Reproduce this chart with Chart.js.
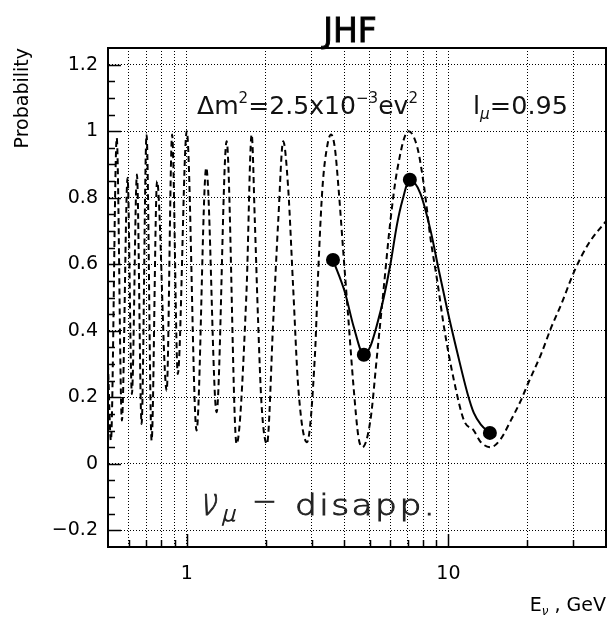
<!DOCTYPE html>
<html><head><meta charset="utf-8">
<script src="https://cdn.jsdelivr.net/npm/chart.js@4"></script>
<style>html,body{margin:0;padding:0;background:#fff;} #wrap{width:613px;height:622px;}</style>
</head><body><div id="wrap"><canvas id="c" width="613" height="622"></canvas></div>
<script>
// ---- data ----
const dashE = [0.5, 0.513, 0.54, 0.565, 0.594, 0.617, 0.645, 0.672, 0.702, 0.734, 0.77, 0.838, 0.879, 0.924, 1.0, 1.09, 1.187, 1.3, 1.42, 1.55, 1.69, 1.77, 1.82, 1.873, 1.93, 2.025, 2.14, 2.236, 2.336, 2.44, 2.55, 2.667, 2.88, 3.09, 3.18, 3.30, 3.45, 3.56, 3.68, 3.8, 3.97, 4.15, 4.34, 4.53, 4.69, 5.03, 5.34, 5.66, 6.0, 6.36, 7.03, 7.61, 8.08, 8.53, 9.06, 9.62, 10.5, 11.47, 12.5, 13.3, 14.5, 15.85, 17.3, 18.9, 20.1, 22.6, 24.7, 27.0, 30.3, 34.2, 40];
const dashP = [0.30, 0.07, 0.98, 0.13, 0.86, 0.21, 0.87, 0.12, 0.99, 0.07, 0.85, 0.22, 0.99, 0.27, 1.0, 0.10, 0.89, 0.155, 0.97, 0.06, 0.51, 0.99, 0.73, 0.43, 0.18, 0.06, 0.43, 0.73, 0.97, 0.83, 0.53, 0.23, 0.065, 0.33, 0.58, 0.83, 0.96, 0.99, 0.95, 0.83, 0.63, 0.43, 0.23, 0.08, 0.05, 0.13, 0.33, 0.53, 0.73, 0.88, 1.0, 0.95, 0.83, 0.68, 0.55, 0.41, 0.25, 0.13, 0.10, 0.065, 0.05, 0.075, 0.13, 0.19, 0.24, 0.33, 0.41, 0.48, 0.58, 0.66, 0.73];
const solidE = [3.62, 4.03, 4.34, 4.75, 5.03, 5.34, 5.66, 6.0, 6.36, 6.66, 7.12, 7.8, 8.53, 9.18, 9.9, 10.82, 11.84, 12.5, 13.3, 14.4];
const solidP = [0.613, 0.513, 0.413, 0.328, 0.353, 0.42, 0.50, 0.60, 0.72, 0.79, 0.854, 0.814, 0.704, 0.583, 0.463, 0.333, 0.21, 0.153, 0.118, 0.093];
const pointE = [3.62, 4.75, 7.12, 14.4];
const pointP = [0.613, 0.328, 0.854, 0.093];
const xGridTicks = [0.6, 0.7, 0.8, 0.9, 1, 2, 3, 4, 5, 6, 7, 8, 9, 10, 20, 30];
const xLabelTicks = [1, 10];
const yTicks = [-0.2, 0, 0.2, 0.4, 0.6, 0.8, 1.0, 1.2];
const xRange = [0.5, 40];
const yRange = [-0.25, 1.25];

const FONT = '"DejaVu Sans", "Liberation Sans", sans-serif';
const toXY = (xs, ys) => xs.map((v, i) => ({x: v, y: ys[i]}));

function drawSeq(ctx, parts, x, y, targetW) {
  let sum = 0;
  parts.forEach(p => { ctx.font = p.f; p.w = ctx.measureText(p.t).width; sum += p.w; });
  const s = targetW ? targetW / sum : 1;
  let cx = x;
  parts.forEach(p => {
    ctx.font = p.f;
    ctx.save(); ctx.translate(cx, y + (p.dy || 0)); ctx.scale(s, 1);
    ctx.fillText(p.t, 0, 0);
    ctx.restore();
    cx += p.w * s;
  });
  return cx;
}
function drawFit(ctx, text, font, x, y, targetW, spacing, skew) {
  ctx.save();
  ctx.font = font;
  ctx.letterSpacing = (spacing || 0) + 'px';
  const w = ctx.measureText(text).width;
  const s = targetW / w;
  ctx.translate(x, y); ctx.scale(s, 1);
  if (skew) ctx.transform(1, 0, -skew, 1, 0, 0);
  ctx.fillStyle = '#222'; ctx.fillText(text, 0, 0);
  ctx.lineWidth = 0.9; ctx.strokeStyle = '#222'; ctx.strokeText(text, 0, 0);
  ctx.restore();
}

const framePlugin = {
  id: 'frame',
  afterDraw(chart) {
    const {ctx, chartArea: a, scales: {x, y}} = chart;
    ctx.save();
    ctx.setLineDash([]);
    ctx.strokeStyle = '#000';
    ctx.lineWidth = 1.5;
    ctx.beginPath();
    for (let k = -4; k <= 24; k++) {
      const v = k * 0.05;
      const py = Math.round(y.getPixelForValue(v)) + 0.5;
      const len = (k % 4 === 0) ? 13 : 7;
      ctx.moveTo(a.left, py); ctx.lineTo(a.left + len, py);
    }
    xGridTicks.forEach(v => {
      const px = Math.round(x.getPixelForValue(v)) + 0.5;
      const len = xLabelTicks.includes(v) ? 13 : 7;
      ctx.moveTo(px, a.bottom); ctx.lineTo(px, a.bottom - len);
    });
    ctx.stroke();
    ctx.lineWidth = 2;
    ctx.strokeRect(a.left, a.top, a.right - a.left, a.bottom - a.top);
    ctx.restore();
  }
};

const textPlugin = {
  id: 'texts',
  afterDraw(chart) {
    const ctx = chart.ctx;
    ctx.save();
    ctx.fillStyle = '#000';
    ctx.textBaseline = 'alphabetic';
    // title
    ctx.font = '33px ' + FONT;
    ctx.textAlign = 'center';
    ctx.fillText('JHF', 350, 42);
    ctx.lineWidth = 0.9; ctx.strokeStyle = '#000';
    ctx.strokeText('JHF', 350, 42);
    ctx.textAlign = 'left';
    // delta m^2 and l_mu
    ctx.fillStyle = '#111';
    drawSeq(ctx, [
      {t: 'Δm', f: '25px ' + FONT},
      {t: '2', f: '15px ' + FONT, dy: -11},
      {t: '=2.5x10', f: '25px ' + FONT},
      {t: '−3', f: '15px ' + FONT, dy: -11},
      {t: 'ev', f: '25px ' + FONT},
      {t: '2', f: '15px ' + FONT, dy: -11}
    ], 197, 114, 221);
    drawSeq(ctx, [
      {t: 'l', f: '25px ' + FONT},
      {t: 'μ', f: 'italic 15px ' + FONT, dy: 5},
      {t: '=0.95', f: '25px ' + FONT}
    ], 473, 114, 95);
    // nu_mu - disapp.
    drawFit(ctx, 'ν', '200 38px ' + FONT, 199, 515, 17, 0, 0.25);
    drawFit(ctx, 'μ', '200 21px ' + FONT, 221, 521, 14, 0, 0.25);
    drawFit(ctx, '−', '200 29px ' + FONT, 252, 511, 25, 0, 0);
    drawFit(ctx, 'disapp.', '200 29px ' + FONT, 295, 515, 142, 2, 0);
    // x title
    ctx.fillStyle = '#000';
    const parts = [
      {t: 'E', f: '19px ' + FONT},
      {t: 'ν', f: 'italic 12px ' + FONT, dy: 4},
      {t: ' , GeV', f: '19px ' + FONT}
    ];
    let tw = 0;
    parts.forEach(p => { ctx.font = p.f; tw += ctx.measureText(p.t).width; });
    drawSeq(ctx, parts, 606 - tw, 611, 0);
    ctx.restore();
  }
};

new Chart(document.getElementById('c'), {
  type: 'scatter',
  data: {
    datasets: [
      {
        data: toXY(dashE, dashP), showLine: true, pointRadius: 0,
        borderColor: '#000', borderWidth: 2, borderDash: [6, 4],
        cubicInterpolationMode: 'monotone', fill: false
      },
      {
        data: toXY(solidE, solidP), showLine: true, pointRadius: 0,
        borderColor: '#000', borderWidth: 2,
        cubicInterpolationMode: 'monotone', fill: false
      },
      {
        data: toXY(pointE, pointP), showLine: false, pointRadius: 7,
        pointBackgroundColor: '#000', pointBorderColor: '#000', pointBorderWidth: 0
      }
    ]
  },
  options: {
    responsive: false, animation: false, devicePixelRatio: 1,
    layout: {padding: {left: 0, right: 7, top: 48, bottom: 0}},
    plugins: {legend: {display: false}, tooltip: {enabled: false}, title: {display: false}},
    scales: {
      x: {
        type: 'logarithmic', min: xRange[0], max: xRange[1], bounds: 'data',
        afterBuildTicks: s => { s.ticks = xGridTicks.map(v => ({value: v})); },
        afterFit: s => { s.height = 75; },
        ticks: {
          autoSkip: false, maxRotation: 0, padding: 16, color: '#000',
          font: {family: FONT, size: 19},
          callback: v => xLabelTicks.includes(v) ? String(v) : ''
        },
        grid: {color: '#000', lineWidth: 1, drawTicks: false},
        border: {display: true, color: '#000', width: 2, dash: [1, 2]}
      },
      y: {
        type: 'linear', min: yRange[0], max: yRange[1],
        afterBuildTicks: s => { s.ticks = yTicks.map(v => ({value: v})); },
        afterFit: s => { s.width = 108; },
        ticks: {
          padding: 10, color: '#000', font: {family: FONT, size: 19},
          callback: v => { const r = Math.round(v * 10) / 10; return r === 0 ? '0' : (r < 0 ? '−' + Math.abs(r) : String(r)); }
        },
        grid: {color: '#000', lineWidth: 1, drawTicks: false},
        border: {display: true, color: '#000', width: 2, dash: [1, 2]},
        title: {
          display: true, text: 'Probability', align: 'end', color: '#000',
          font: {family: FONT, size: 19}, padding: {top: 12, bottom: 0}
        }
      }
    }
  },
  plugins: [framePlugin, textPlugin]
});
</script>
</body></html>
